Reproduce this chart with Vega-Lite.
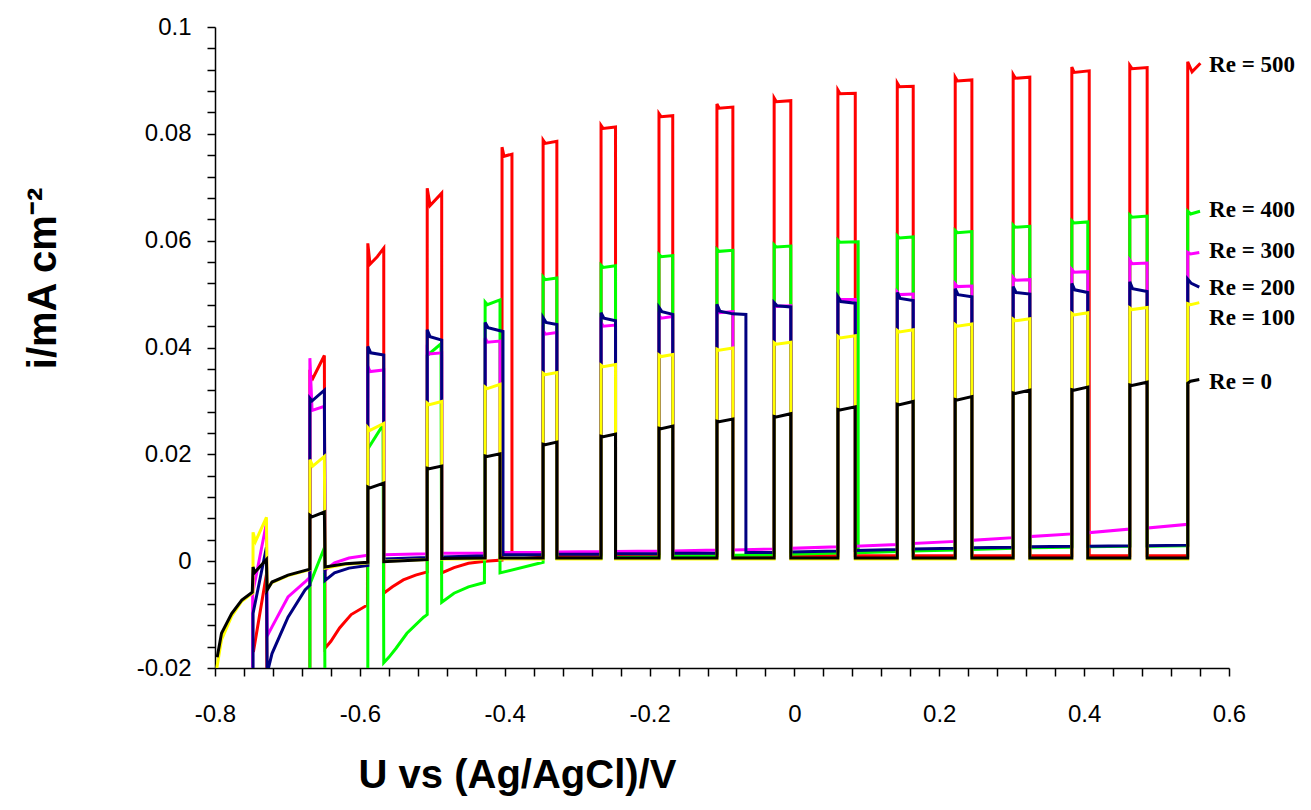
{
"$schema":"https://vega.github.io/schema/vega-lite/v6.json",
"width":1014,"height":641,
"autosize":{"type":"none"},
"padding":{"left":215,"top":27,"right":82,"bottom":142},
"background":"white",
"config":{"view":{"stroke":null},
"axis":{"grid":false,"domainColor":"#000","domainWidth":1.5,"tickColor":"#000","tickWidth":1.5,"tickSize":8,"labelColor":"#000","labelFont":"Liberation Sans","labelFontSize":24,"labelOverlap":false,"labelFlush":false,"labelBound":false,"titleFont":"Liberation Sans","titleFontWeight":"bold","titleFontSize":40,"titleColor":"#000"}},
"datasets":{
"re500":[{"x":-0.747,"y":-0.017},{"x":-0.729,"y":-0.0025},{"x":-0.728,"y":-0.03},{"x":-0.669,"y":-0.03},
{"x":-0.669,"y":0.035},{"x":-0.665,"y":0.0342},{"x":-0.649,"y":0.0385},
{"x":-0.648,"y":-0.0163},{"x":-0.64,"y":-0.015},{"x":-0.628,"y":-0.0125},{"x":-0.612,"y":-0.01},{"x":-0.5895,"y":-0.0082},
{"x":-0.589,"y":0.0595},{"x":-0.586,"y":0.0556},{"x":-0.576,"y":0.057},{"x":-0.567,"y":0.0586},
{"x":-0.567,"y":-0.006},{"x":-0.555,"y":-0.0048},{"x":-0.54,"y":-0.0035},{"x":-0.523,"y":-0.0026},{"x":-0.507,"y":-0.002},
{"x":-0.507,"y":0.0698},{"x":-0.503,"y":0.0666},{"x":-0.487,"y":0.0689},
{"x":-0.487,"y":-0.0022},{"x":-0.47,"y":-0.0012},{"x":-0.45,"y":-0.0004},{"x":-0.427,"y":0.0},{"x":-0.4037,"y":0.0002},
{"x":-0.4037,"y":0.0775},{"x":-0.401,"y":0.0758},{"x":-0.39,"y":0.0762},
{"x":-0.39,"y":0.0014},{"x":-0.347,"y":0.001},
{"x":-0.347,"y":0.0788},{"x":-0.344,"y":0.0782},{"x":-0.328,"y":0.0786},
{"x":-0.328,"y":0.001},{"x":-0.267,"y":0.001},
{"x":-0.267,"y":0.0816},{"x":-0.264,"y":0.081},{"x":-0.247,"y":0.0813},
{"x":-0.247,"y":0.001},{"x":-0.187,"y":0.001},
{"x":-0.187,"y":0.0838},{"x":-0.184,"y":0.0832},{"x":-0.168,"y":0.0834},
{"x":-0.168,"y":0.001},{"x":-0.107,"y":0.001},
{"x":-0.107,"y":0.0856},{"x":-0.104,"y":0.0848},{"x":-0.085,"y":0.085},
{"x":-0.085,"y":0.001},{"x":-0.028,"y":0.001},
{"x":-0.028,"y":0.0867},{"x":-0.025,"y":0.086},{"x":-0.005,"y":0.0862},
{"x":-0.005,"y":0.001},{"x":0.06,"y":0.001},
{"x":0.06,"y":0.0882},{"x":0.063,"y":0.0875},{"x":0.084,"y":0.0876},
{"x":0.084,"y":0.001},{"x":0.142,"y":0.001},
{"x":0.142,"y":0.0895},{"x":0.145,"y":0.0888},{"x":0.164,"y":0.0889},
{"x":0.164,"y":0.001},{"x":0.222,"y":0.001},
{"x":0.222,"y":0.0906},{"x":0.225,"y":0.0899},{"x":0.245,"y":0.0901},
{"x":0.245,"y":0.001},{"x":0.302,"y":0.001},
{"x":0.302,"y":0.0911},{"x":0.305,"y":0.0904},{"x":0.325,"y":0.0906},
{"x":0.325,"y":0.001},{"x":0.383,"y":0.001},
{"x":0.383,"y":0.0925},{"x":0.386,"y":0.0915},{"x":0.407,"y":0.0918},
{"x":0.407,"y":0.001},{"x":0.463,"y":0.001},
{"x":0.463,"y":0.0928},{"x":0.466,"y":0.0922},{"x":0.487,"y":0.0924},
{"x":0.487,"y":0.001},{"x":0.543,"y":0.001},
{"x":0.543,"y":0.0935},{"x":0.549,"y":0.0916},{"x":0.5605,"y":0.0932}],
"re400":[{"x":-0.669,"y":-0.03},{"x":-0.669,"y":-0.0043},{"x":-0.649,"y":0.0025},{"x":-0.648,"y":-0.03},{"x":-0.589,"y":-0.03},
{"x":-0.589,"y":0.021},{"x":-0.568,"y":0.0255},
{"x":-0.567,"y":-0.019},{"x":-0.56,"y":-0.018},{"x":-0.55,"y":-0.0163},{"x":-0.535,"y":-0.0135},{"x":-0.512,"y":-0.0105},{"x":-0.507,"y":-0.01},
{"x":-0.507,"y":0.0385},{"x":-0.488,"y":0.0407},
{"x":-0.487,"y":-0.0077},{"x":-0.47,"y":-0.006},{"x":-0.45,"y":-0.0048},{"x":-0.428,"y":-0.004},
{"x":-0.427,"y":0.0485},{"x":-0.424,"y":0.048},{"x":-0.4065,"y":0.0489},
{"x":-0.4065,"y":-0.0022},{"x":-0.347,"y":-0.0002},
{"x":-0.347,"y":0.0532},{"x":-0.344,"y":0.0527},{"x":-0.328,"y":0.053},
{"x":-0.328,"y":0.0005},{"x":-0.267,"y":0.0006},
{"x":-0.267,"y":0.0554},{"x":-0.264,"y":0.055},{"x":-0.247,"y":0.0553},
{"x":-0.247,"y":0.0007},{"x":-0.187,"y":0.0008},
{"x":-0.187,"y":0.0574},{"x":-0.184,"y":0.057},{"x":-0.168,"y":0.0572},
{"x":-0.168,"y":0.0009},{"x":-0.107,"y":0.001},
{"x":-0.107,"y":0.0584},{"x":-0.104,"y":0.058},{"x":-0.085,"y":0.0582},
{"x":-0.085,"y":0.0011},{"x":-0.028,"y":0.0012},
{"x":-0.028,"y":0.0592},{"x":-0.025,"y":0.0588},{"x":-0.005,"y":0.059},
{"x":-0.005,"y":0.0013},{"x":0.06,"y":0.0015},
{"x":0.06,"y":0.0601},{"x":0.063,"y":0.0597},{"x":0.088,"y":0.0598},
{"x":0.088,"y":0.0016},{"x":0.142,"y":0.0018},
{"x":0.142,"y":0.0609},{"x":0.145,"y":0.0605},{"x":0.164,"y":0.0607},
{"x":0.164,"y":0.0019},{"x":0.222,"y":0.0021},
{"x":0.222,"y":0.0619},{"x":0.225,"y":0.0615},{"x":0.245,"y":0.0617},
{"x":0.245,"y":0.0022},{"x":0.302,"y":0.0024},
{"x":0.302,"y":0.0629},{"x":0.305,"y":0.0625},{"x":0.325,"y":0.0627},
{"x":0.325,"y":0.0025},{"x":0.383,"y":0.0026},
{"x":0.383,"y":0.0637},{"x":0.386,"y":0.0633},{"x":0.405,"y":0.0635},
{"x":0.405,"y":0.0027},{"x":0.463,"y":0.0028},
{"x":0.463,"y":0.0648},{"x":0.466,"y":0.0644},{"x":0.487,"y":0.0646},
{"x":0.487,"y":0.0028},{"x":0.543,"y":0.0029},
{"x":0.543,"y":0.0655},{"x":0.547,"y":0.065},{"x":0.56,"y":0.0655}],
"re300":[{"x":-0.748,"y":-0.03},{"x":-0.748,"y":-0.006},{"x":-0.729,"y":0.0071},{"x":-0.728,"y":-0.014},{"x":-0.7213,"y":-0.0123},{"x":-0.6992,"y":-0.0067},{"x":-0.6757,"y":-0.0039},{"x":-0.669,"y":-0.003},
{"x":-0.669,"y":0.038},{"x":-0.666,"y":0.0282},{"x":-0.649,"y":0.029},
{"x":-0.648,"y":-0.0017},{"x":-0.635,"y":-0.0003},{"x":-0.615,"y":0.0006},{"x":-0.589,"y":0.0011},
{"x":-0.589,"y":0.0365},{"x":-0.586,"y":0.0355},{"x":-0.567,"y":0.0358},
{"x":-0.567,"y":0.0012},{"x":-0.507,"y":0.0014},
{"x":-0.507,"y":0.0395},{"x":-0.504,"y":0.0388},{"x":-0.487,"y":0.039},
{"x":-0.487,"y":0.0015},{"x":-0.427,"y":0.0015},
{"x":-0.427,"y":0.0418},{"x":-0.424,"y":0.041},{"x":-0.4065,"y":0.0412},
{"x":-0.4065,"y":0.0016},{"x":-0.347,"y":0.0016},
{"x":-0.347,"y":0.0432},{"x":-0.344,"y":0.0425},{"x":-0.328,"y":0.0428},
{"x":-0.328,"y":0.0017},{"x":-0.267,"y":0.0018},
{"x":-0.267,"y":0.0447},{"x":-0.264,"y":0.044},{"x":-0.247,"y":0.0442},
{"x":-0.247,"y":0.0018},{"x":-0.187,"y":0.0019},
{"x":-0.187,"y":0.046},{"x":-0.184,"y":0.0455},{"x":-0.168,"y":0.0458},
{"x":-0.168,"y":0.0019},{"x":-0.107,"y":0.0021},
{"x":-0.107,"y":0.047},{"x":-0.104,"y":0.0465},{"x":-0.085,"y":0.0467},
{"x":-0.085,"y":0.0021},{"x":-0.028,"y":0.0023},
{"x":-0.028,"y":0.0482},{"x":-0.025,"y":0.0477},{"x":-0.005,"y":0.0478},
{"x":-0.005,"y":0.0024},{"x":0.06,"y":0.0027},
{"x":0.06,"y":0.0494},{"x":0.063,"y":0.049},{"x":0.084,"y":0.049},
{"x":0.084,"y":0.0028},{"x":0.142,"y":0.0031},
{"x":0.142,"y":0.0504},{"x":0.145,"y":0.0499},{"x":0.164,"y":0.05},
{"x":0.164,"y":0.0033},{"x":0.222,"y":0.0037},
{"x":0.222,"y":0.0519},{"x":0.225,"y":0.0514},{"x":0.245,"y":0.0515},
{"x":0.245,"y":0.0039},{"x":0.302,"y":0.0044},
{"x":0.302,"y":0.0531},{"x":0.305,"y":0.0526},{"x":0.325,"y":0.0527},
{"x":0.325,"y":0.0046},{"x":0.383,"y":0.0051},
{"x":0.383,"y":0.0546},{"x":0.386,"y":0.0541},{"x":0.405,"y":0.0542},
{"x":0.405,"y":0.0053},{"x":0.463,"y":0.006},
{"x":0.463,"y":0.0563},{"x":0.466,"y":0.0557},{"x":0.487,"y":0.0558},
{"x":0.487,"y":0.0062},{"x":0.543,"y":0.0069},
{"x":0.543,"y":0.0578},{"x":0.547,"y":0.0575},{"x":0.559,"y":0.0578}],
"re200":[{"x":-0.7475,"y":-0.03},{"x":-0.7475,"y":-0.0098},{"x":-0.729,"y":0.0026},{"x":-0.728,"y":-0.021},{"x":-0.7213,"y":-0.0173},{"x":-0.6992,"y":-0.0105},{"x":-0.6757,"y":-0.0054},{"x":-0.669,"y":-0.0045},
{"x":-0.669,"y":0.0305},{"x":-0.666,"y":0.03},{"x":-0.649,"y":0.032},
{"x":-0.648,"y":-0.0036},{"x":-0.635,"y":-0.0022},{"x":-0.615,"y":-0.0013},{"x":-0.589,"y":-0.0008},
{"x":-0.589,"y":0.0402},{"x":-0.585,"y":0.039},{"x":-0.567,"y":0.0386},
{"x":-0.567,"y":0.0004},{"x":-0.507,"y":0.0007},
{"x":-0.507,"y":0.0433},{"x":-0.503,"y":0.042},{"x":-0.487,"y":0.0414},
{"x":-0.487,"y":0.0008},{"x":-0.427,"y":0.001},
{"x":-0.427,"y":0.0447},{"x":-0.423,"y":0.0437},{"x":-0.4024,"y":0.043},
{"x":-0.4024,"y":0.0012},{"x":-0.347,"y":0.0012},
{"x":-0.347,"y":0.0456},{"x":-0.343,"y":0.0447},{"x":-0.328,"y":0.0443},
{"x":-0.328,"y":0.0013},{"x":-0.267,"y":0.0013},
{"x":-0.267,"y":0.0465},{"x":-0.263,"y":0.0455},{"x":-0.247,"y":0.045},
{"x":-0.247,"y":0.0014},{"x":-0.187,"y":0.0014},
{"x":-0.187,"y":0.0475},{"x":-0.183,"y":0.0467},{"x":-0.168,"y":0.0462},
{"x":-0.168,"y":0.0015},{"x":-0.107,"y":0.0015},
{"x":-0.107,"y":0.0481},{"x":-0.103,"y":0.0468},{"x":-0.085,"y":0.0463},{"x":-0.067,"y":0.0462},
{"x":-0.067,"y":0.0016},{"x":-0.028,"y":0.0016},
{"x":-0.028,"y":0.0484},{"x":-0.024,"y":0.0478},{"x":-0.005,"y":0.0476},
{"x":-0.005,"y":0.0017},{"x":0.06,"y":0.0019},
{"x":0.06,"y":0.0495},{"x":0.064,"y":0.0486},{"x":0.084,"y":0.0483},
{"x":0.084,"y":0.002},{"x":0.142,"y":0.0022},
{"x":0.142,"y":0.0503},{"x":0.146,"y":0.0492},{"x":0.164,"y":0.0488},
{"x":0.164,"y":0.0023},{"x":0.222,"y":0.0024},
{"x":0.222,"y":0.051},{"x":0.226,"y":0.0499},{"x":0.245,"y":0.0495},
{"x":0.245,"y":0.0025},{"x":0.302,"y":0.0026},
{"x":0.302,"y":0.0514},{"x":0.306,"y":0.0503},{"x":0.325,"y":0.05},
{"x":0.325,"y":0.0027},{"x":0.383,"y":0.0028},
{"x":0.383,"y":0.052},{"x":0.387,"y":0.0508},{"x":0.405,"y":0.0503},
{"x":0.405,"y":0.0028},{"x":0.463,"y":0.0029},
{"x":0.463,"y":0.0523},{"x":0.467,"y":0.051},{"x":0.487,"y":0.0505},
{"x":0.487,"y":0.0029},{"x":0.543,"y":0.003},
{"x":0.543,"y":0.0528},{"x":0.548,"y":0.052},{"x":0.559,"y":0.0513}],
"re100":[{"x":-0.7975,"y":-0.02},{"x":-0.791,"y":-0.0147},{"x":-0.777,"y":-0.0103},{"x":-0.763,"y":-0.0075},{"x":-0.7475,"y":-0.0059},
{"x":-0.7475,"y":0.0054},{"x":-0.744,"y":0.0037},{"x":-0.729,"y":0.0082},
{"x":-0.728,"y":-0.0052},{"x":-0.7213,"y":-0.004},{"x":-0.6992,"y":-0.0027},{"x":-0.669,"y":-0.0016},
{"x":-0.669,"y":0.019},{"x":-0.665,"y":0.0178},{"x":-0.649,"y":0.0196},
{"x":-0.648,"y":-0.0013},{"x":-0.62,"y":-0.0006},{"x":-0.589,"y":-0.0003},
{"x":-0.589,"y":0.025},{"x":-0.586,"y":0.0245},{"x":-0.567,"y":0.0258},
{"x":-0.567,"y":0.0},{"x":-0.507,"y":0.0003},
{"x":-0.507,"y":0.0296},{"x":-0.504,"y":0.0293},{"x":-0.487,"y":0.0299},
{"x":-0.487,"y":0.0004},{"x":-0.427,"y":0.0004},
{"x":-0.427,"y":0.0326},{"x":-0.424,"y":0.0323},{"x":-0.4065,"y":0.0331},
{"x":-0.4065,"y":0.0004},{"x":-0.347,"y":0.0004},
{"x":-0.347,"y":0.0352},{"x":-0.344,"y":0.0349},{"x":-0.328,"y":0.0353},
{"x":-0.328,"y":0.0004},{"x":-0.267,"y":0.0004},
{"x":-0.267,"y":0.0367},{"x":-0.264,"y":0.0364},{"x":-0.247,"y":0.0368},
{"x":-0.247,"y":0.0004},{"x":-0.187,"y":0.0004},
{"x":-0.187,"y":0.0386},{"x":-0.184,"y":0.0383},{"x":-0.168,"y":0.0387},
{"x":-0.168,"y":0.0004},{"x":-0.107,"y":0.0004},
{"x":-0.107,"y":0.0397},{"x":-0.104,"y":0.0395},{"x":-0.085,"y":0.0399},
{"x":-0.085,"y":0.0004},{"x":-0.028,"y":0.0004},
{"x":-0.028,"y":0.0409},{"x":-0.025,"y":0.0406},{"x":-0.005,"y":0.041},
{"x":-0.005,"y":0.0004},{"x":0.06,"y":0.0004},
{"x":0.06,"y":0.0421},{"x":0.063,"y":0.0418},{"x":0.084,"y":0.0422},
{"x":0.084,"y":0.0004},{"x":0.142,"y":0.0004},
{"x":0.142,"y":0.0432},{"x":0.145,"y":0.0429},{"x":0.164,"y":0.0433},
{"x":0.164,"y":0.0004},{"x":0.222,"y":0.0004},
{"x":0.222,"y":0.0443},{"x":0.225,"y":0.044},{"x":0.245,"y":0.0444},
{"x":0.245,"y":0.0004},{"x":0.302,"y":0.0004},
{"x":0.302,"y":0.0453},{"x":0.305,"y":0.045},{"x":0.325,"y":0.0454},
{"x":0.325,"y":0.0004},{"x":0.383,"y":0.0004},
{"x":0.383,"y":0.0464},{"x":0.386,"y":0.0461},{"x":0.405,"y":0.0465},
{"x":0.405,"y":0.0004},{"x":0.463,"y":0.0004},
{"x":0.463,"y":0.0474},{"x":0.466,"y":0.0471},{"x":0.487,"y":0.0475},
{"x":0.487,"y":0.0004},{"x":0.543,"y":0.0004},
{"x":0.543,"y":0.0482},{"x":0.547,"y":0.048},{"x":0.559,"y":0.0484}],
"re0":[{"x":-0.797,"y":-0.018},{"x":-0.791,"y":-0.0135},{"x":-0.777,"y":-0.0098},{"x":-0.763,"y":-0.0073},{"x":-0.7485,"y":-0.0058},
{"x":-0.7475,"y":-0.0011},{"x":-0.745,"y":-0.0021},{"x":-0.729,"y":0.0003},
{"x":-0.728,"y":-0.0054},{"x":-0.7213,"y":-0.0039},{"x":-0.6992,"y":-0.0026},{"x":-0.669,"y":-0.0015},
{"x":-0.669,"y":0.0086},{"x":-0.666,"y":0.0083},{"x":-0.649,"y":0.0092},
{"x":-0.648,"y":-0.0011},{"x":-0.62,"y":-0.0005},{"x":-0.589,"y":-0.0002},
{"x":-0.589,"y":0.0139},{"x":-0.586,"y":0.0137},{"x":-0.567,"y":0.0146},
{"x":-0.567,"y":-0.0001},{"x":-0.507,"y":0.0003},
{"x":-0.507,"y":0.0174},{"x":-0.504,"y":0.0173},{"x":-0.487,"y":0.0178},
{"x":-0.487,"y":0.0005},{"x":-0.427,"y":0.0006},
{"x":-0.427,"y":0.0197},{"x":-0.424,"y":0.0196},{"x":-0.4065,"y":0.0201},
{"x":-0.4065,"y":0.0006},{"x":-0.347,"y":0.0006},
{"x":-0.347,"y":0.0219},{"x":-0.344,"y":0.0218},{"x":-0.328,"y":0.0223},
{"x":-0.328,"y":0.0006},{"x":-0.267,"y":0.0006},
{"x":-0.267,"y":0.0234},{"x":-0.264,"y":0.0233},{"x":-0.247,"y":0.0238},
{"x":-0.247,"y":0.0006},{"x":-0.187,"y":0.0006},
{"x":-0.187,"y":0.0249},{"x":-0.184,"y":0.0248},{"x":-0.168,"y":0.0253},
{"x":-0.168,"y":0.0006},{"x":-0.107,"y":0.0006},
{"x":-0.107,"y":0.0262},{"x":-0.104,"y":0.0261},{"x":-0.085,"y":0.0266},
{"x":-0.085,"y":0.0006},{"x":-0.028,"y":0.0006},
{"x":-0.028,"y":0.0271},{"x":-0.025,"y":0.027},{"x":-0.005,"y":0.0276},
{"x":-0.005,"y":0.0006},{"x":0.06,"y":0.0006},
{"x":0.06,"y":0.0284},{"x":0.063,"y":0.0283},{"x":0.084,"y":0.0289},
{"x":0.084,"y":0.0006},{"x":0.142,"y":0.0006},
{"x":0.142,"y":0.0294},{"x":0.145,"y":0.0293},{"x":0.164,"y":0.0299},
{"x":0.164,"y":0.0006},{"x":0.222,"y":0.0006},
{"x":0.222,"y":0.0303},{"x":0.225,"y":0.0302},{"x":0.245,"y":0.0308},
{"x":0.245,"y":0.0006},{"x":0.302,"y":0.0006},
{"x":0.302,"y":0.0315},{"x":0.305,"y":0.0314},{"x":0.325,"y":0.032},
{"x":0.325,"y":0.0006},{"x":0.383,"y":0.0006},
{"x":0.383,"y":0.0321},{"x":0.386,"y":0.032},{"x":0.405,"y":0.0326},
{"x":0.405,"y":0.0006},{"x":0.463,"y":0.0006},
{"x":0.463,"y":0.033},{"x":0.466,"y":0.0329},{"x":0.487,"y":0.0335},
{"x":0.487,"y":0.0006},{"x":0.543,"y":0.0006},
{"x":0.543,"y":0.0333},{"x":0.547,"y":0.0337},{"x":0.559,"y":0.034}],
"labels":[{"x":0.5725,"y":0.0929,"t":"Re = 500"},{"x":0.5725,"y":0.0657,"t":"Re = 400"},{"x":0.5725,"y":0.058,"t":"Re = 300"},{"x":0.5725,"y":0.0512,"t":"Re = 200"},{"x":0.5725,"y":0.0456,"t":"Re = 100"},{"x":0.5725,"y":0.0335,"t":"Re = 0"}]
},
"encoding":{
"x":{"field":"x","type":"quantitative","scale":{"domain":[-0.8,0.6],"nice":false,"zero":false},
"axis":{"title":"U vs (Ag/AgCl)/V","values":[-0.8,-0.76,-0.72,-0.68,-0.64,-0.6,-0.56,-0.52,-0.48,-0.44,-0.4,-0.36,-0.32,-0.28,-0.24,-0.2,-0.16,-0.12,-0.08,-0.04,0,0.04,0.08,0.12,0.16,0.2,0.24,0.28,0.32,0.36,0.4,0.44,0.48,0.52,0.56,0.6],
"labelExpr":"abs(datum.value*5-round(datum.value*5))<0.01 ? (datum.value<0 ? '-'+format(-datum.value,'~g') : format(datum.value,'~g')) : ''",
"labelPadding":26,"titleX":302,"titleY":107,"titleAlign":"center","titleBaseline":"middle"}},
"y":{"field":"y","type":"quantitative","scale":{"domain":[-0.02,0.1],"nice":false,"zero":false},
"axis":{"title":"i/mA cm⁻²","values":[-0.02,-0.016,-0.012,-0.008,-0.004,0,0.004,0.008,0.012,0.016,0.02,0.024,0.028,0.032,0.036,0.04,0.044,0.048,0.052,0.056,0.06,0.064,0.068,0.072,0.076,0.08,0.084,0.088,0.092,0.096,0.1],
"labelExpr":"abs(datum.value*50-round(datum.value*50))<0.01 ? (datum.value<0 ? '-'+format(-datum.value,'~g') : format(datum.value,'~g')) : ''",
"labelPadding":16,"titleX":-172,"titleY":251,"titleAlign":"center","titleBaseline":"middle"}}
},
"layer":[
{"data":{"name":"re500"},"mark":{"type":"line","color":"#FF0000","strokeWidth":3,"clip":true},"encoding":{"order":{"value":null}}},
{"data":{"name":"re400"},"mark":{"type":"line","color":"#00FF00","strokeWidth":3,"clip":true},"encoding":{"order":{"value":null}}},
{"data":{"name":"re300"},"mark":{"type":"line","color":"#FF00FF","strokeWidth":3,"clip":true},"encoding":{"order":{"value":null}}},
{"data":{"name":"re200"},"mark":{"type":"line","color":"#000080","strokeWidth":3,"clip":true},"encoding":{"order":{"value":null}}},
{"data":{"name":"re100"},"mark":{"type":"line","color":"#FFFF00","strokeWidth":3,"clip":true},"encoding":{"order":{"value":null}}},
{"data":{"name":"re0"},"mark":{"type":"line","color":"#000000","strokeWidth":3,"clip":true},"encoding":{"order":{"value":null}}},
{"data":{"name":"labels"},"mark":{"type":"text","align":"left","baseline":"middle","font":"Liberation Serif","fontWeight":"bold","fontSize":23,"color":"#000"},"encoding":{"text":{"field":"t","type":"nominal"}}}
]
}
